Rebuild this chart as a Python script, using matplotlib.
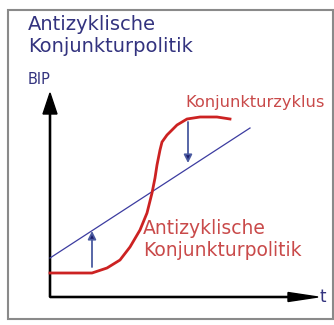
import matplotlib.pyplot as plt
from matplotlib.patches import Rectangle

# Konjunkturzyklus (rote Kurve): Zeit t und BIP
zyklus_t = [0, 42, 57, 70, 80, 90, 97, 102, 105, 107, 110, 112, 117, 127, 137, 150, 167, 180]
zyklus_bip = [24, 24, 29, 37, 50, 67, 84, 104, 119, 132, 147, 155, 162, 172, 178, 180, 180, 178]

# Trend (blaue Gerade)
trend_t = [0, 200]
trend_bip = [39, 169]

# Eingriffe der Politik: (t, von, bis)
eingriffe_t = [42, 138]
eingriffe_von = [30, 175]
eingriffe_bis = [66, 134]

navy = '#33337f'
rot_text = '#c94a4a'

fig = plt.figure(figsize=(3.34, 3.25), dpi=100)
ax = fig.add_axes([0, 0, 1, 1])
ax.set_xlim(-50, 284)
ax.set_ylim(-28, 297)
ax.axis('off')

# Rahmen
ax.add_patch(Rectangle((-42, -22), 325, 309, fill=False, edgecolor='#8a8a8a', lw=1.5))

# Achsen mit Pfeilen
ax.arrow(0, 0, 268, 0, width=1.2, head_width=9, head_length=30,
         length_includes_head=True, color='black')
ax.arrow(0, 0, 0, 204, width=1.2, head_width=14, head_length=21,
         length_includes_head=True, color='black')

# Kurven
ax.plot(trend_t, trend_bip, color='#3c3ca0', lw=0.9)
ax.plot(zyklus_t, zyklus_bip, color='#cc2222', lw=2)

for t, a, b in zip(eingriffe_t, eingriffe_von, eingriffe_bis):
    ax.annotate('', xy=(t, b), xytext=(t, a),
                arrowprops=dict(arrowstyle='-|>', lw=1.3,
                                mutation_scale=12, shrinkA=0, shrinkB=0,
                                fc='#1a1a6a', ec='#4a5aa0'))

# Texte
ax.text(-22, 272, 'Antizyklische', color=navy, fontsize=14, va='center')
ax.text(-22, 250, 'Konjunkturpolitik', color=navy, fontsize=14, va='center')
ax.text(-22, 217, 'BIP', color=navy, fontsize=10.5, va='center')
ax.text(135, 194, 'Konjunkturzyklus', color=rot_text, fontsize=11.7, va='center')
ax.text(93, 69, 'Antizyklische', color=rot_text, fontsize=13.5, va='center')
ax.text(93, 46, 'Konjunkturpolitik', color=rot_text, fontsize=13.5, va='center')
ax.text(270, 0, 't', color=navy, fontsize=12, va='center')

fig.savefig('out.png', dpi=100)
